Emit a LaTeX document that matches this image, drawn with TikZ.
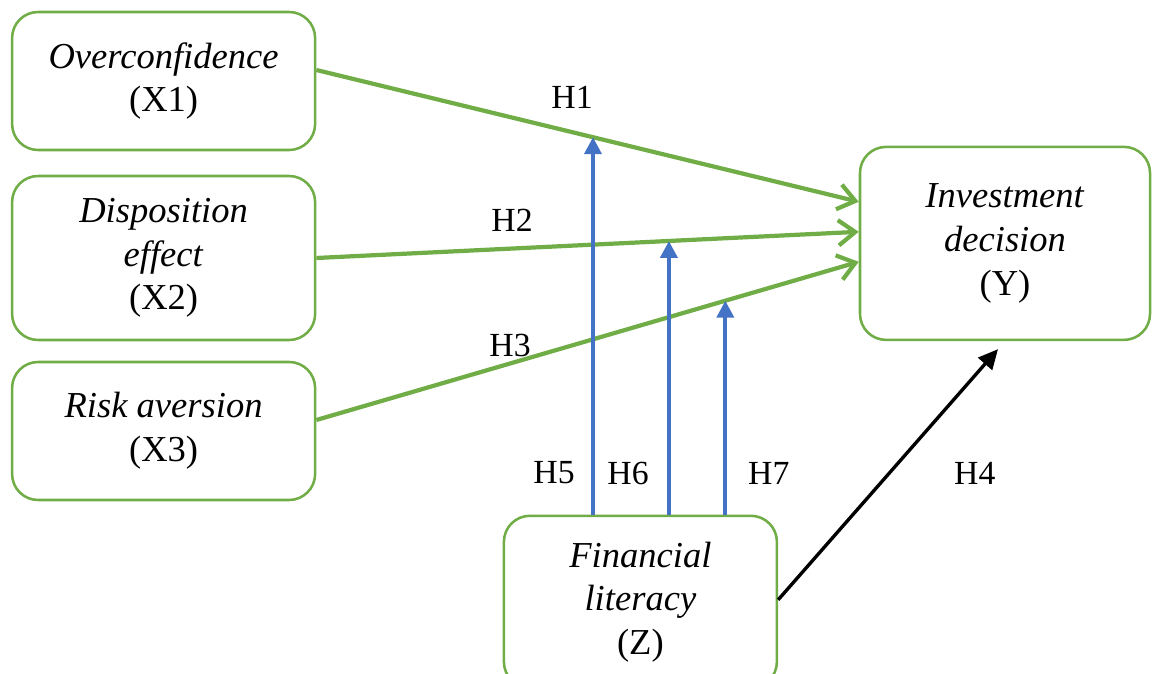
\documentclass[tikz,border=0pt]{standalone}
\usepackage{fontspec}
\setmainfont{Liberation Serif}
\usetikzlibrary{arrows.meta}
\definecolor{boxgreen}{RGB}{112,173,71}
\definecolor{arrblue}{RGB}{68,114,196}

\begin{document}
\begin{tikzpicture}[
  font=\fontsize{24}{31}\selectfont,
  var/.style={draw=boxgreen, line width=1.8pt, rounded corners=0.65cm, align=center, inner sep=0pt,
    font=\fontsize{26}{31}\selectfont},
  grnarrow/.style={draw=boxgreen, line width=3pt, -{Straight Barb[length=12pt,width=18pt]}},
  modarrow/.style={draw=arrblue, line width=2.8pt, -{Triangle[length=12pt,width=12pt]}},
  dirarrow/.style={draw=black, line width=2.4pt, -{Triangle[length=14pt,width=13pt]}}
]

\useasboundingbox (0,0) rectangle (28.875,16.825);

% ========================
% VARIABLE BOXES
% ========================

\node[var, minimum width=7.575cm, minimum height=3.45cm] (X1) at (4.09,14.8)
  {\textit{Overconfidence}\\(X1)};
\node[var, minimum width=7.575cm, minimum height=4.1cm] (X2) at (4.09,10.375)
  {\textit{Disposition}\\\textit{effect}\\(X2)};
\node[var, minimum width=7.575cm, minimum height=3.45cm] (X3) at (4.09,6.05)
  {\textit{Risk aversion}\\(X3)};

\node[var, minimum width=7.25cm, minimum height=4.825cm] (Y) at (25.125,10.74)
  {\textit{Investment}\\\textit{decision}\\(Y)};

\node[var, minimum width=6.825cm, minimum height=4.3cm] (Z) at (16.01,1.78)
  {\textit{Financial}\\\textit{literacy}\\(Z)};

% ========================
% DIRECT EFFECTS (H1--H3)
% ========================

\draw[grnarrow] ([yshift=0.275cm]X1.east) -- coordinate[pos=0.51] (m1) ([yshift=1.04cm]Y.west);
\draw[grnarrow] (X2.east) -- coordinate[pos=0.65] (m2) ([yshift=0.29cm]Y.west);
\draw[grnarrow] ([yshift=0.275cm]X3.east) -- coordinate[pos=0.754] (m3) ([yshift=-0.46cm]Y.west);

% ========================
% MODERATION (H5--H7)
% ========================

\draw[modarrow] (m1 |- Z.north) -- (m1);
\draw[modarrow] (m2 |- Z.north) -- (m2);
\draw[modarrow] (m3 |- Z.north) -- (m3);

% Z -> Y
\coordinate (h4end) at ([xshift=-0.175cm,yshift=-0.2cm]Y.south);
\draw[dirarrow] ([yshift=0.05cm]Z.east) -- (h4end);

% ========================
% HYPOTHESIS LABELS
% ========================

\node (H1) at (14.3,14.4) {H1};
\node (H2) at (12.8,11.325) {H2};
\node (H3) at (12.75,8.2) {H3};
\node (H5) at (13.85,5.0) {H5};
\node (H6) at (15.7,5.0) {H6};
\node (H7) at (19.22,5.0) {H7};
\node (H4) at (24.37,5.0) {H4};

\end{tikzpicture}
\end{document}
